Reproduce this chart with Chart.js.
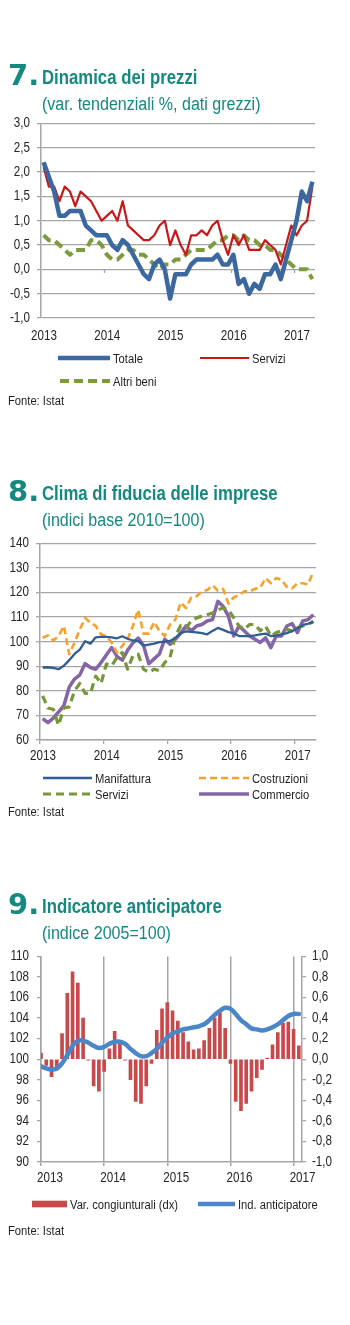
<!DOCTYPE html>
<html>
<head>
<meta charset="utf-8">
<script src="https://cdn.jsdelivr.net/npm/chart.js@4.4.1/dist/chart.umd.min.js"></script>
<style>
  html, body { margin: 0; padding: 0; background: #fff; }
  #page { position: relative; width: 350px; height: 1325px; overflow: hidden; }
  canvas { position: absolute; left: 0; }
  #ov { position: absolute; left: 0; top: 0; }
  .num { font: bold 29px 'DejaVu Sans', sans-serif; fill: #13897f; }
  .ttl { font: bold 19.5px 'Liberation Sans', Arial, sans-serif; fill: #13897f; }
  .sub { font: 19px 'Liberation Sans', Arial, sans-serif; fill: #13897f; }
  .leg { font: 13.5px 'Liberation Sans', Arial, sans-serif; fill: #1e1e1e; }
</style>
</head>
<body>
<div id="page">
  <canvas id="c7" width="350" height="240" style="top:108px"></canvas>
  <canvas id="c8" width="350" height="237" style="top:528px"></canvas>
  <canvas id="c9" width="350" height="248" style="top:940px"></canvas>
  <svg id="ov" width="350" height="1325"></svg>
</div>
<script>
// ---- data (monthly, Jan 2013 onwards) ----
const years = ['2013', '2014', '2015', '2016', '2017'];
const yearStart = [0, 12, 24, 36, 48];   // month index of each January

// 7. Dinamica dei prezzi (var. tendenziali %)
const prezziTotale = [2.2, 1.9, 1.6, 1.1, 1.1, 1.2, 1.2, 1.2, 0.9, 0.8, 0.7, 0.7,
  0.7, 0.5, 0.4, 0.6, 0.5, 0.3, 0.1, -0.1, -0.2, 0.1, 0.2, 0.0,
  -0.6, -0.1, -0.1, -0.1, 0.1, 0.2, 0.2, 0.2, 0.2, 0.3, 0.1, 0.1,
  0.3, -0.3, -0.2, -0.5, -0.3, -0.4, -0.1, -0.1, 0.1, -0.2, 0.2, 0.6,
  1.0, 1.6, 1.4, 1.8];
const prezziServizi = [2.1, 1.7, 1.7, 1.4, 1.7, 1.6, 1.3, 1.6, 1.5, 1.4, 1.2, 1.0,
  1.1, 1.2, 1.0, 1.4, 0.9, 0.8, 0.7, 0.6, 0.6, 0.7, 0.9, 1.0,
  0.5, 0.8, 0.5, 0.3, 0.7, 0.7, 0.8, 0.7, 0.9, 1.0, 0.6, 0.3,
  0.7, 0.5, 0.7, 0.4, 0.4, 0.4, 0.6, 0.5, 0.4, 0.1, 0.5, 0.9,
  0.7, 0.9, 1.0, 1.7];
const prezziAltri = [0.7, 0.6, 0.6, 0.5, 0.4, 0.3, 0.4, 0.4, 0.4, 0.6, 0.6, 0.5,
  0.3, 0.2, 0.2, 0.3, 0.4, 0.4, 0.3, 0.3, 0.2, 0.1, 0.0, 0.1,
  0.1, 0.2, 0.2, 0.3, 0.4, 0.4, 0.4, 0.4, 0.5, 0.6, 0.6, 0.7,
  0.7, 0.6, 0.7, 0.6, 0.6, 0.5, 0.5, 0.4, 0.4, 0.3, 0.2, 0.1,
  0.0, 0.0, 0.0, -0.2];

// 8. Clima di fiducia delle imprese (2010=100)
const fidManifattura = [89.5, 89.6, 89.3, 88.8, 90.2, 92.5, 95.0, 96.8, 100.2, 99.2, 101.8, 102.0,
  102.0, 101.8, 101.4, 102.2, 101.2, 100.5, 100.2, 98.4, 98.8, 99.2, 99.8, 100.0,
  100.3, 101.5, 103.5, 104.2, 104.0, 103.8, 103.5, 103.0, 104.4, 105.6, 104.8, 103.9,
  103.4, 102.3, 102.3, 102.3, 102.6, 103.0, 103.3, 102.3, 102.5, 103.0, 103.5, 104.3,
  105.5, 106.8, 107.3, 108.0];
const fidCostruzioni = [101.6, 102.6, 100.5, 102.3, 106.4, 94.9, 99.6, 105.0, 109.7, 107.7, 106.4, 103.0,
  102.3, 99.6, 95.6, 98.3, 101.0, 106.4, 113.0, 103.3, 103.3, 108.0, 104.4, 102.3,
  107.0, 109.0, 116.0, 113.7, 118.0, 118.5, 120.5, 121.0, 123.0, 120.8, 121.5, 115.5,
  118.0, 119.0, 120.5, 120.5, 121.5, 122.0, 125.9, 123.8, 125.9, 125.2, 122.3, 121.7,
  123.8, 123.8, 123.3, 128.6];
const fidServizi = [78.0, 73.0, 72.5, 66.0, 73.0, 73.5, 80.0, 83.0, 79.0, 79.0, 86.0, 83.0,
  90.9, 90.2, 93.6, 95.6, 88.8, 94.2, 94.9, 88.8, 87.5, 88.8, 88.2, 91.5,
  93.6, 102.3, 106.5, 105.5, 108.5, 109.7, 110.4, 111.0, 111.7, 113.0, 113.7, 113.0,
  109.7, 106.4, 105.0, 107.0, 107.0, 104.4, 106.4, 102.3, 103.7, 104.4, 105.0, 104.4,
  105.7, 106.4, 107.0, 108.4];
const fidCommercio = [68.7, 67.1, 68.9, 71.4, 74.0, 81.5, 84.8, 86.5, 91.1, 89.5, 88.8, 91.5,
  94.6, 97.6, 94.0, 92.5, 96.5, 99.5, 101.5, 98.5, 91.0, 93.0, 95.0, 101.0,
  99.0, 101.0, 103.5, 106.4, 104.4, 106.4, 107.0, 108.4, 109.0, 116.4, 114.4, 110.4,
  102.3, 106.4, 104.4, 102.3, 101.0, 99.7, 101.6, 97.6, 102.3, 102.3, 106.4, 107.4,
  103.7, 108.4, 109.0, 111.0];

// 9. Indicatore anticipatore (2005=100) and monthly change (right axis)
const indAnticipatore = [99.3, 99.1, 99.0, 99.1, 99.6, 100.4, 101.3, 101.8, 101.8, 101.6, 101.3, 101.1,
  101.2, 101.5, 101.7, 101.7, 101.5, 101.0, 100.6, 100.3, 100.3, 100.6, 101.0, 101.6,
  102.1, 102.5, 102.7, 102.9, 103.0, 103.1, 103.2, 103.4, 103.8, 104.3, 104.7, 105.0,
  104.9, 104.4, 103.8, 103.4, 103.0, 102.9, 102.8, 102.9, 103.1, 103.4, 103.8, 104.2,
  104.4, 104.4];
const varCongiunturali = [0.06, -0.06, -0.17, -0.10, 0.25, 0.64, 0.85, 0.74, 0.40, -0.01, -0.26, -0.31,
  -0.12, 0.10, 0.27, 0.15, -0.01, -0.20, -0.41, -0.43, -0.26, -0.04, 0.28, 0.49,
  0.55, 0.47, 0.37, 0.26, 0.17, 0.09, 0.10, 0.18, 0.30, 0.40, 0.45, 0.30,
  -0.04, -0.41, -0.50, -0.43, -0.31, -0.18, -0.10, 0.01, 0.14, 0.26, 0.35, 0.36,
  0.29, 0.13];

// ---- styling ----
Chart.defaults.font.family = "'Liberation Sans', Arial, sans-serif";
Chart.defaults.font.size = 14;
Chart.defaults.color = '#262626';

const C = {
  grid: '#a6a6a6',
  totale: '#3b68a1', servizi: '#cc1517', altri: '#7b9b3d',
  manif: '#2f5d94', costr: '#f8a02a', serv8: '#77973a', comm: '#8466a8',
  bar: '#c9484a', ind: '#4a86c8',
};

// no narrow face installed: squeeze text horizontally to get the Arial Narrow look
const SQUEEZE = 0.83;
function condensed(id) {
  const cv = document.getElementById(id);
  const ctx = cv.getContext('2d');
  const fill = ctx.fillText.bind(ctx);
  ctx.fillText = (t, x, y, w) => fill(t, x, y, w !== undefined ? w : ctx.measureText(t).width * SQUEEZE);
  return cv;
}

// Excel-style small year ticks sitting on the zero line (chart 7)
const zeroTicks = {
  id: 'zeroTicks',
  afterDatasetsDraw(chart) {
    const { ctx, scales: { x, y } } = chart;
    const y0 = Math.round(y.getPixelForValue(0));
    ctx.save();
    ctx.strokeStyle = C.grid; ctx.lineWidth = 1.3;
    yearStart.slice(1).forEach(v => {
      const px = Math.round(x.getPixelForValue(v)) + 0.5;
      ctx.beginPath(); ctx.moveTo(px, y0); ctx.lineTo(px, y0 + 4); ctx.stroke();
    });
    ctx.restore();
  },
};

const comma = v => (Math.abs(v) < 1e-9 ? 0 : v).toFixed(1).replace('.', ',');
const pts = (arr, shift) => arr.map((v, i) => ({ x: i + shift, y: v }));
const yearTicks = s => { s.ticks = yearStart.map(v => ({ value: v })); };
const noPlugins = { legend: { display: false }, tooltip: { enabled: false } };

// ── 7. prices ──
const ch7 = new Chart(condensed('c7'), {
  type: 'line',
  plugins: [zeroTicks],
  data: { datasets: [
    { label: 'Totale', data: pts(prezziTotale, 0.5), borderColor: C.totale, borderWidth: 4.5 },
    { label: 'Servizi', data: pts(prezziServizi, 0.5), borderColor: C.servizi, borderWidth: 2.2 },
    { label: 'Altri beni', data: pts(prezziAltri, 0.5), borderColor: C.altri, borderWidth: 4, borderDash: [9, 5] },
  ] },
  options: {
    responsive: false, animation: false,
    layout: { padding: { top: 15, right: 35, left: 0, bottom: 0 } },
    elements: { point: { radius: 0 }, line: { tension: 0, borderJoinStyle: 'round' } },
    plugins: noPlugins,
    scales: {
      x: { type: 'linear', min: 0, max: 52, grid: { display: false, drawTicks: false }, border: { display: false },
        afterBuildTicks: yearTicks, afterFit: s => { s.height = 30; },
        ticks: { callback: (v, i) => years[i], labelOffset: 3, padding: 10, maxRotation: 0, autoSkip: false } },
      y: { min: -1, max: 3, afterFit: s => { s.width = 41; },
        grid: { color: C.grid, lineWidth: 1.3, tickLength: 4 }, border: { color: C.grid, width: 1.5 },
        ticks: { stepSize: 0.5, padding: 7, callback: comma } },
    },
  },
});

// ── 8. business confidence ──
const ch8 = new Chart(condensed('c8'), {
  type: 'line',
  data: { datasets: [
    { label: 'Manifattura', data: pts(fidManifattura, 0.5), borderColor: C.manif, borderWidth: 2.3 },
    { label: 'Costruzioni', data: pts(fidCostruzioni, 0.5), borderColor: C.costr, borderWidth: 2.6, borderDash: [7, 4] },
    { label: 'Servizi', data: pts(fidServizi, 0.5), borderColor: C.serv8, borderWidth: 3.2, borderDash: [8, 5] },
    { label: 'Commercio', data: pts(fidCommercio, 0.5), borderColor: C.comm, borderWidth: 3.5 },
  ] },
  options: {
    responsive: false, animation: false,
    layout: { padding: { top: 14, right: 34, left: 0, bottom: 0 } },
    elements: { point: { radius: 0 }, line: { tension: 0, borderJoinStyle: 'round' } },
    plugins: noPlugins,
    scales: {
      x: { type: 'linear', min: 0, max: 52,
        grid: { drawOnChartArea: false, color: C.grid, lineWidth: 1.3, tickLength: 4 },
        border: { color: C.grid, width: 1.5 },
        afterBuildTicks: yearTicks, afterFit: s => { s.height = 25; },
        ticks: { callback: (v, i) => years[i], labelOffset: 3, padding: 4, maxRotation: 0, autoSkip: false } },
      y: { min: 60, max: 140, afterFit: s => { s.width = 40; },
        grid: { color: C.grid, lineWidth: 1.3, tickLength: 4 }, border: { color: C.grid, width: 1.5 },
        ticks: { stepSize: 10, padding: 7 } },
    },
  },
});

// ── 9. leading indicator ──
const ch9 = new Chart(condensed('c9'), {
  type: 'bar',
  data: { datasets: [
    { type: 'line', label: 'Ind. anticipatore', data: pts(indAnticipatore, 0), yAxisID: 'y',
      borderColor: C.ind, borderWidth: 4.5, tension: 0.4, pointRadius: 0, borderCapStyle: 'round', order: 0 },
    { type: 'bar', label: 'Var. congiunturali (dx)', data: pts(varCongiunturali, 0), yAxisID: 'y2',
      backgroundColor: C.bar, barThickness: 3, order: 1 },
  ] },
  options: {
    responsive: false, animation: false,
    layout: { padding: { top: 13.5, right: 0, left: 0, bottom: 0 } },
    plugins: noPlugins,
    scales: {
      x: { type: 'linear', min: 0, max: 49.6, offset: false,
        grid: { offset: false, color: C.grid, lineWidth: 1.5, tickLength: 4 },
        border: { color: C.grid, width: 1.5 },
        afterBuildTicks: yearTicks, afterFit: s => { s.height = 26; },
        ticks: { callback: (v, i) => years[i], labelOffset: 9, padding: 4, maxRotation: 0, autoSkip: false } },
      y: { position: 'left', min: 90, max: 110, afterFit: s => { s.width = 41; },
        grid: { drawOnChartArea: false, color: C.grid, lineWidth: 1.3, tickLength: 4 },
        border: { color: C.grid, width: 1.5 },
        ticks: { stepSize: 2, padding: 8 } },
      y2: { position: 'right', min: -1, max: 1, afterFit: s => { s.width = 48; },
        grid: { drawOnChartArea: false, color: C.grid, lineWidth: 1.3, tickLength: 4 },
        border: { color: C.grid, width: 1.5 },
        ticks: { stepSize: 0.2, padding: 6, callback: comma } },
    },
  },
});

// ---- headings, legends, sources (SVG overlay) ----
const NS = 'http://www.w3.org/2000/svg';
const svg = document.getElementById('ov');
function el(tag, attrs, text) {
  const e = document.createElementNS(NS, tag);
  for (const k in attrs) e.setAttribute(k, attrs[k]);
  if (text != null) e.textContent = text;
  svg.appendChild(e);
  return e;
}
// narrow text: anchor at (x, y) and squeeze horizontally
function narrowText(x, y, cls, s, k = SQUEEZE) {
  return el('text', { x: 0, y: 0, class: cls, transform: `translate(${x} ${y}) scale(${k} 1)` }, s);
}
function heading(num, title, sub, base) {
  el('text', { x: 8, y: base + 1, class: 'num' }, num);
  narrowText(42, base, 'ttl', title, 0.86);
  narrowText(42, base + 26, 'sub', sub, 0.845);
}
function legItem(ds, x1, x2, y) {
  if (ds.type === 'bar') {
    el('rect', { x: x1, y: y - 3.3, width: x2 - x1, height: 6.6, fill: ds.backgroundColor });
  } else {
    el('line', { x1, x2, y1: y, y2: y, stroke: ds.borderColor, 'stroke-width': ds.borderWidth,
      'stroke-dasharray': ds.borderDash ? ds.borderDash.join(' ') : 'none' });
  }
  narrowText(x2 + 3, y + 5, 'leg', ds.label);
}
const source = y => narrowText(8, y, 'leg', 'Fonte: Istat');

heading('7.', 'Dinamica dei prezzi', '(var. tendenziali %, dati grezzi)', 84);
const d7 = ch7.data.datasets;
legItem(d7[0], 58, 110, 358);
legItem(d7[1], 200, 249, 358);
legItem(d7[2], 60, 110, 381);
source(405);

heading('8.', 'Clima di fiducia delle imprese', '(indici base 2010=100)', 499.5);
const d8 = ch8.data.datasets;
legItem(d8[0], 43, 92, 778);
legItem(d8[1], 199, 249, 778);
legItem(d8[2], 43, 92, 794);
legItem(d8[3], 199, 249, 794);
source(816);

heading('9.', 'Indicatore anticipatore', '(indice 2005=100)', 912.5);
const d9 = ch9.data.datasets;
legItem(d9[1], 32, 67, 1204);
legItem(d9[0], 198, 235, 1204);
source(1235);
</script>
</body>
</html>
